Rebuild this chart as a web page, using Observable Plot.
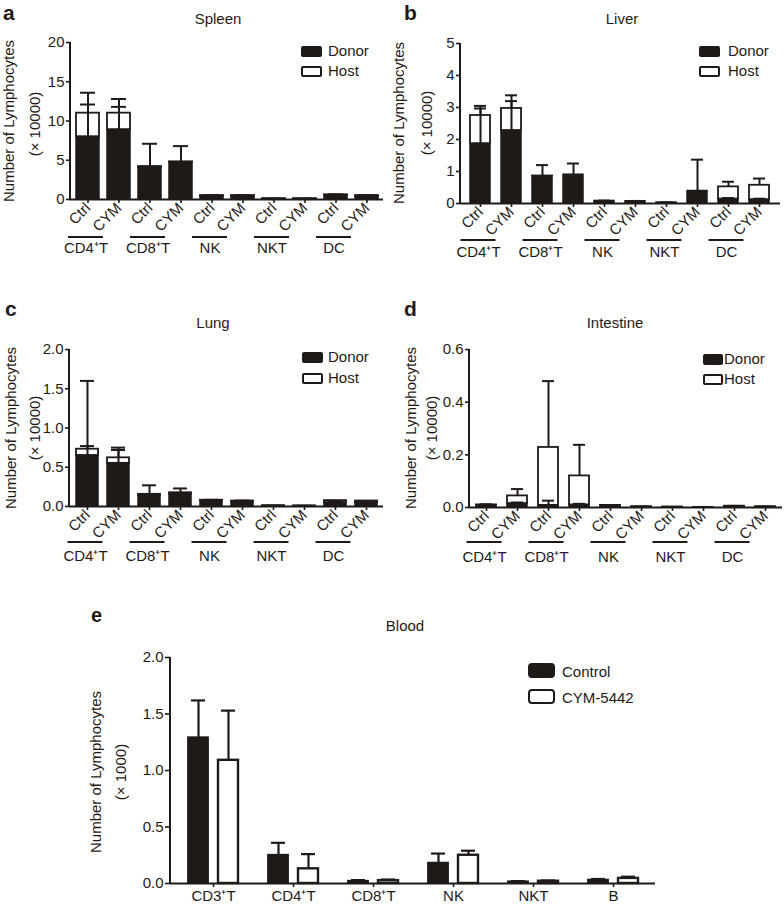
<!DOCTYPE html>
<html>
<head>
<meta charset="utf-8">
<script src="https://cdn.jsdelivr.net/npm/d3@7"></script>
<script src="https://cdn.jsdelivr.net/npm/@observablehq/plot@0.6"></script>
<style>
  body { margin: 0; background: #fff; }
  #fig { position: relative; width: 784px; height: 909px; overflow: hidden; background: #fff;
         font-family: "Liberation Sans", Arial, Helvetica, sans-serif; }
  #fig svg { position: absolute; overflow: visible; }
  #fig g[aria-label$="axis tick"] { stroke-width: 1.6px; }
  #fig g[aria-label$="axis tick label"] { font-size: 15px; }
</style>
</head>
<body>
<div id="fig"></div>
<script>
// ---------------- data ----------------
const groups = ["CD4⁺T", "CD8⁺T", "NK", "NKT", "DC"];
const conditions = ["Ctrl", "CYM"];
// order: CD4 Ctrl, CD4 CYM, CD8 Ctrl, CD8 CYM, NK Ctrl, NK CYM, NKT Ctrl, NKT CYM, DC Ctrl, DC CYM
const spleenDonor    = [8.0, 8.9, 4.1, 4.75, 0.45, 0.45, 0.08, 0.08, 0.55, 0.45];
const spleenHost     = [3.0, 2.1, 0.1, 0.05, 0.05, 0.05, 0.02, 0.02, 0.05, 0.05];
const spleenDonorErr = [4.1, 2.9, 3.0, 2.05, 0.1, 0.1, 0.02, 0.02, 0.1, 0.1];
const spleenHostErr  = [2.6, 1.8, 0, 0, 0, 0, 0, 0, 0, 0];

const liverDonor    = [1.87, 2.28, 0.85, 0.9, 0.08, 0.07, 0.03, 0.39, 0.14, 0.12];
const liverHost     = [0.88, 0.69, 0.01, 0, 0, 0, 0, 0, 0.38, 0.45];
const liverDonorErr = [1.1, 0.92, 0.35, 0.35, 0.01, 0.01, 0.005, 0.98, 0.03, 0.03];
const liverHostErr  = [0.3, 0.41, 0, 0, 0, 0, 0, 0, 0.16, 0.21];

const lungDonor    = [0.65, 0.55, 0.14, 0.16, 0.075, 0.065, 0.008, 0.006, 0.05, 0.05];
const lungHost     = [0.08, 0.07, 0.015, 0.015, 0.005, 0.005, 0.002, 0.002, 0.025, 0.02];
const lungDonorErr = [0.12, 0.17, 0.13, 0.07, 0.01, 0.01, 0.002, 0.002, 0.01, 0.01];
const lungHostErr  = [0.87, 0.13, 0, 0, 0, 0, 0, 0, 0, 0];

const intestineDonor    = [0.008, 0.015, 0.008, 0.01, 0.006, 0.002, 0.001, 0.001, 0.004, 0.002];
const intestineHost     = [0.002, 0.029, 0.22, 0.11, 0.002, 0.001, 0.001, 0, 0.001, 0.001];
const intestineDonorErr = [0.004, 0.004, 0.018, 0.004, 0.003, 0.001, 0, 0, 0.002, 0.001];
const intestineHostErr  = [0, 0.026, 0.252, 0.118, 0, 0, 0, 0, 0, 0];

const bloodCells      = ["CD3⁺T", "CD4⁺T", "CD8⁺T", "NK", "NKT", "B"];
const bloodControl    = [1.29, 0.25, 0.02, 0.18, 0.015, 0.03];
const bloodControlErr = [0.33, 0.11, 0.01, 0.085, 0.006, 0.01];
const bloodCym        = [1.09, 0.13, 0.025, 0.25, 0.02, 0.045];
const bloodCymErr     = [0.44, 0.13, 0.01, 0.04, 0.006, 0.015];

const spleenTicks = [0, 5, 10, 15, 20];
const liverTicks = [0, 1, 2, 3, 4, 5];
const lungTicks = [0, 0.5, 1.0, 1.5, 2.0];
const intestineTicks = [0, 0.2, 0.4, 0.6];
const bloodTicks = [0, 0.5, 1.0, 1.5, 2.0];

// ---------------- helpers ----------------
const dark = "#1f1a17";
const FONT = '"Liberation Sans", Arial, Helvetica, sans-serif';
const fig = document.getElementById("fig");

function buildRows(donor, host, donorErr, hostErr) {
  const rows = [];
  groups.forEach((g, gi) => conditions.forEach((c, ci) => {
    const i = gi * conditions.length + ci;
    rows.push({key: `${g}|${c}`, group: g, cond: c,
      donor: donor[i], host: host[i], donorErr: donorErr[i], hostErr: hostErr[i]});
  }));
  return rows;
}

// y axis line drawn from the frame dimensions
const yAxisLine = (index, scales, values, dim) =>
  d3.create("svg:line")
    .attr("x1", dim.marginLeft).attr("x2", dim.marginLeft)
    .attr("y1", dim.marginTop).attr("y2", dim.height - dim.marginBottom + 1)
    .attr("stroke", dark).attr("stroke-width", 2).node();

// underline below each Ctrl/CYM pair, positioned from the x scale
function pairUnderlines(offset, half, shift) {
  return (index, scales, values, dim) => {
    const g = d3.create("svg:g");
    const bw = scales.x.bandwidth ? scales.x.bandwidth() : 0;
    const y0 = dim.height - dim.marginBottom + offset;
    for (const grp of groups) {
      const cx = scales.x(`${grp}|${conditions[0]}`) + bw / 2 + shift;
      g.append("line").attr("x1", cx - half).attr("x2", cx + half)
        .attr("y1", y0).attr("y2", y0).attr("stroke", dark).attr("stroke-width", 2);
    }
    return g.node();
  };
}

function stackedPanel(o) {
  const rows = buildRows(o.donor, o.host, o.donorErr, o.hostErr);
  const keys = rows.map(d => d.key);
  const svg = Plot.plot({
    width: o.width, height: o.height,
    marginLeft: o.m[0], marginRight: o.m[1], marginTop: o.m[2], marginBottom: o.m[3],
    style: {background: "transparent", fontFamily: FONT, fontSize: "15px", color: dark},
    x: {type: "band", domain: keys, paddingInner: o.pi, paddingOuter: o.po,
        tickRotate: -45, tickSize: 4, tickPadding: 2, label: null,
        tickFormat: k => k.split("|")[1]},
    y: {domain: [o.ticks[0], o.ticks[o.ticks.length - 1]], ticks: o.ticks, tickSize: 4, tickPadding: 2,
        label: null, tickFormat: o.fmt},
    marks: [
      Plot.barY(rows, {x: "key", y1: 0, y2: "donor", fill: dark, stroke: dark, strokeWidth: 1.5}),
      Plot.barY(rows.filter(d => d.host > 0), {x: "key", y1: "donor", y2: d => d.donor + d.host,
        fill: "white", stroke: dark, strokeWidth: 1.8}),
      Plot.ruleX(rows.filter(d => d.donorErr > 0), {x: "key", y1: "donor", y2: d => d.donor + d.donorErr,
        stroke: dark, strokeWidth: 2}),
      Plot.tickY(rows.filter(d => d.donorErr > 0), {x: "key", y: d => d.donor + d.donorErr,
        stroke: dark, strokeWidth: 2, insetLeft: 4, insetRight: 4}),
      Plot.ruleX(rows.filter(d => d.hostErr > 0), {x: "key", y1: d => d.donor + d.host,
        y2: d => d.donor + d.host + d.hostErr, stroke: dark, strokeWidth: 2}),
      Plot.tickY(rows.filter(d => d.hostErr > 0), {x: "key", y: d => d.donor + d.host + d.hostErr,
        stroke: dark, strokeWidth: 2, insetLeft: 4, insetRight: 4}),
      Plot.ruleY([0], {stroke: dark, strokeWidth: 2}),
      yAxisLine,
      pairUnderlines(o.under, 17.5, -2),
      Plot.text(groups, {x: g => `${g}|${conditions[0]}`, text: d => d, frameAnchor: "bottom",
        dy: o.labelDy, dx: -2, lineAnchor: "bottom", fontSize: 15, fill: dark})
    ]
  });
  svg.style.left = o.left + "px";
  svg.style.top = o.top + "px";
  fig.appendChild(svg);
}

stackedPanel({donor: spleenDonor, host: spleenHost, donorErr: spleenDonorErr, hostErr: spleenHostErr,
  ticks: spleenTicks, fmt: d3.format("d"), left: 0, top: 0, width: 392, height: 260,
  m: [70, 9, 42, 61], pi: 0.27, po: 0.135, under: 38, labelDy: 53});
stackedPanel({donor: liverDonor, host: liverHost, donorErr: liverDonorErr, hostErr: liverHostErr,
  ticks: liverTicks, fmt: d3.format("d"), left: 392, top: 0, width: 392, height: 262,
  m: [68, 4, 43, 59], pi: 0.34, po: 0.22, under: 37, labelDy: 53});
stackedPanel({donor: lungDonor, host: lungHost, donorErr: lungDonorErr, hostErr: lungHostErr,
  ticks: lungTicks, fmt: d3.format(".1f"), left: 0, top: 290, width: 392, height: 290,
  m: [69, 9, 59, 74], pi: 0.3, po: 0.18, under: 36, labelDy: 54});
stackedPanel({donor: intestineDonor, host: intestineHost, donorErr: intestineDonorErr, hostErr: intestineHostErr,
  ticks: intestineTicks, fmt: d3.format(".1f"), left: 392, top: 290, width: 392, height: 290,
  m: [77, 2, 59, 73], pi: 0.35, po: 0.22, under: 35, labelDy: 54});

// ---------------- panel e ----------------
{
  const rows = bloodCells.map((c, i) => ({cell: c, control: bloodControl[i], controlErr: bloodControlErr[i],
    cym: bloodCym[i], cymErr: bloodCymErr[i]}));
  const svg = Plot.plot({
    width: 784, height: 309, marginLeft: 170, marginRight: 129, marginTop: 57, marginBottom: 26,
    style: {background: "transparent", fontFamily: FONT, fontSize: "15px", color: dark},
    x: {type: "band", domain: bloodCells, paddingInner: 0.38, paddingOuter: 0.19,
        tickSize: 4, tickPadding: 3, label: null},
    y: {domain: [0, 2], ticks: bloodTicks, tickSize: 5, tickPadding: 2, label: null, tickFormat: d3.format(".1f")},
    marks: [
      Plot.barY(rows, {x: "cell", y: "control", fill: dark, stroke: dark, strokeWidth: 1.8, insetRight: 30}),
      Plot.barY(rows, {x: "cell", y: "cym", fill: "white", stroke: dark, strokeWidth: 2.4, insetLeft: 30}),
      Plot.ruleX(rows, {x: "cell", y1: "control", y2: d => d.control + d.controlErr, dx: -15, stroke: dark, strokeWidth: 2.2}),
      Plot.tickY(rows, {x: "cell", y: d => d.control + d.controlErr, insetLeft: 3, insetRight: 33, stroke: dark, strokeWidth: 2.2}),
      Plot.ruleX(rows, {x: "cell", y1: "cym", y2: d => d.cym + d.cymErr, dx: 15, stroke: dark, strokeWidth: 2.2}),
      Plot.tickY(rows, {x: "cell", y: d => d.cym + d.cymErr, insetLeft: 33, insetRight: 3, stroke: dark, strokeWidth: 2.2}),
      Plot.ruleY([0], {stroke: dark, strokeWidth: 2}),
      yAxisLine
    ]
  });
  svg.style.left = "0px";
  svg.style.top = "600px";
  fig.appendChild(svg);
}

// ---------------- annotations overlay (letters, titles, legends, axis titles) ----------------
const ov = d3.select(fig).append("svg").attr("width", 784).attr("height", 909)
  .style("left", "0px").style("top", "0px").style("pointer-events", "none")
  .attr("font-family", FONT).attr("fill", dark);

function txt(s, x, y, opts = {}) {
  const t = ov.append("text").attr("x", x).attr("y", y).text(s)
    .attr("font-size", opts.size || 14).attr("text-anchor", opts.anchor || "start");
  if (opts.bold) t.attr("font-weight", "bold");
  return t;
}
function vtxt(s, cx, cy, size) {
  ov.append("text").attr("transform", `translate(${cx},${cy}) rotate(-90)`)
    .attr("text-anchor", "middle").attr("dominant-baseline", "central")
    .attr("font-size", size).text(s);
}
function legend(x, y, w, h, gap, tx, labels, size, rx) {
  labels.forEach((lab, i) => {
    ov.append("rect").attr("x", x).attr("y", y + i * gap).attr("width", w).attr("height", h)
      .attr("rx", rx).attr("fill", i === 0 ? dark : "white").attr("stroke", dark).attr("stroke-width", 2);
    txt(lab, tx, y + i * gap + h, {size});
  });
}

// panel letters
txt("a", 3, 20, {size: 21, bold: true});
txt("b", 404, 20, {size: 21, bold: true});
txt("c", 5, 316, {size: 21, bold: true});
txt("d", 404, 316, {size: 21, bold: true});
txt("e", 91, 622, {size: 20, bold: true});

// titles
txt("Spleen", 218, 24, {anchor: "middle", size: 15});
txt("Liver", 622, 24, {anchor: "middle", size: 15});
txt("Lung", 213, 328, {anchor: "middle", size: 15});
txt("Intestine", 615, 328, {anchor: "middle", size: 15});
txt("Blood", 405, 631, {anchor: "middle", size: 15});

// legends
const stackKeys = ["Donor", "Host"];
legend(302, 47, 19, 9, 20, 328, stackKeys, 15, 1);
legend(700, 47, 19, 9, 20, 728, stackKeys, 15, 1);
legend(303, 353, 19, 9, 21, 328, stackKeys, 15, 1);
legend(704, 355, 18, 9, 20, 724, stackKeys, 15, 1);
legend(529, 664, 25, 13, 26, 562, ["Control", "CYM-5442"], 15, 3);

// y axis titles
const yTitle = "Number of  Lymphocytes";
vtxt(yTitle, 8, 121, 15);  vtxt("(× 10000)", 34, 124, 15);
vtxt(yTitle, 398, 123, 15); vtxt("(× 10000)", 426, 123, 15);
vtxt(yTitle, 10, 428, 15); vtxt("(× 10000)", 34, 428, 15);
vtxt(yTitle, 410, 428, 15); vtxt("(× 10000)", 431, 428, 15);
vtxt(yTitle, 95, 772, 15); vtxt("(× 1000)", 120, 772, 15);
</script>
</body>
</html>
